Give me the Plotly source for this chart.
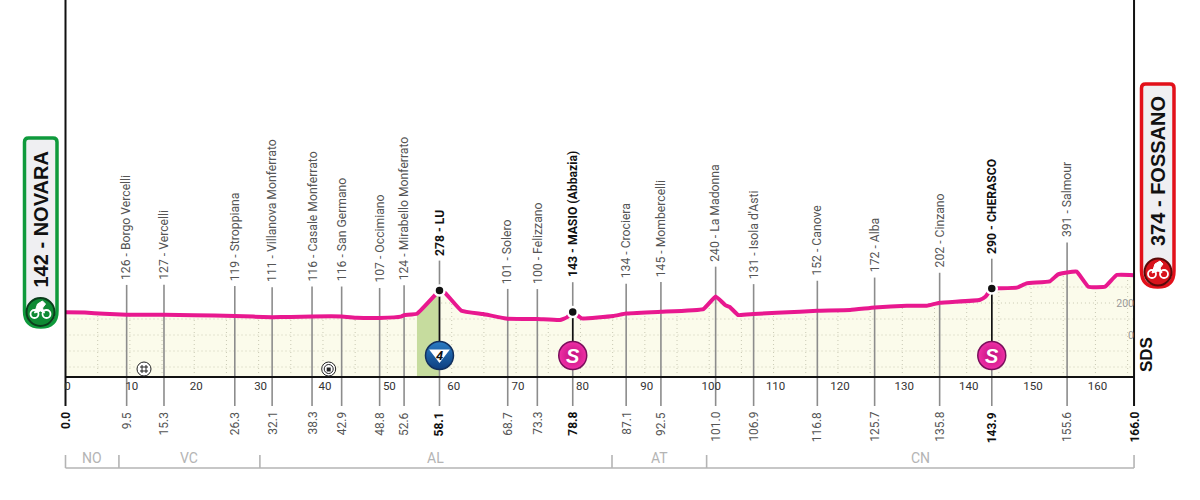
"""Profilo altimetrico di tappa: Novara - Fossano."""
import numpy as np
import plotly.graph_objects as go

# profilo (km, m)
profile_km = [0, 3, 6, 9.5, 15.3, 20, 26.3, 32.1, 35, 38.3, 42.9, 45.3, 48.8, 52.1, 52.6, 54.6,
              57.7, 58.1, 59, 61.5, 64.9, 68.7, 73.3, 76.8, 77.9, 78.8, 80.2, 85.1, 87.1, 92.5,
              99.1, 101, 102.5, 103.2, 104.5, 106.9, 114.1, 116.8, 121.9, 125.7, 130.7, 133.8,
              135.8, 142, 142.9, 143.9, 144.9, 147.8, 149.3, 152.9, 154.2, 155.6, 157.1, 158.9,
              161.5, 163.3, 166]
profile_m = [142, 140, 133, 126, 127, 124, 119, 111, 113, 116, 116, 108, 107, 115, 124, 133,
             262, 278, 262, 152, 131, 101, 100, 94, 110, 143, 104, 119, 134, 145,
             162, 240, 187, 175, 125, 131, 146, 152, 156, 172, 183, 183,
             202, 219, 239, 290, 292, 296, 323, 335, 379, 391, 396, 302,
             302, 375, 374]

# localita
place_km = [9.5, 15.3, 26.3, 32.1, 38.3, 42.9, 48.8, 52.6, 58.1, 68.7, 73.3, 78.8, 87.1, 92.5,
            101.0, 106.9, 116.8, 125.7, 135.8, 143.9, 155.6]
place_m = [126, 127, 119, 111, 116, 116, 107, 124, 278, 101, 100, 143, 134, 145,
           240, 131, 152, 172, 202, 290, 391]
place_names = ["Borgo Vercelli", "Vercelli", "Stroppiana", "Villanova Monferrato", "Casale Monferrato",
               "San Germano", "Occimiano", "Mirabello Monferrato", "LU", "Solero", "Felizzano",
               "MASIO (Abbazia)", "Crociera", "Mombercelli", "La Madonna", "Isola d'Asti", "Canove",
               "Alba", "Cinzano", "CHERASCO", "Salmour"]
bold_km = [58.1, 78.8, 143.9]

# province
region_km = [0, 8.3, 30.2, 84.9, 99.6, 166]
region_names = ["NO", "VC", "AL", "AT", "CN"]

km_ticks = list(range(0, 161, 10))
m_ticks = [0, 200]
grid_levels = [-200, -100, 0, 100, 200, 300]
grid_km = list(range(5, 166, 5))

# scala della pagina
PX_KM = 6.437
X0 = 65.5
Y0 = 335
PX_M = 0.16


def ym(px):
    """Altitudine che corrisponde a una riga di pixel."""
    return (Y0 - px) / PX_M


def xk(px):
    """Km che corrisponde a una colonna di pixel."""
    return (px - X0) / PX_KM


BASE = ym(377)
STEM_END = ym(406)
PINK = "#E8188F"
NARROW = "Roboto, Liberation Sans, sans-serif"

fig = go.Figure()

# area sotto il profilo
fig.add_trace(go.Scatter(x=profile_km + [166, 0], y=profile_m + [BASE, BASE], mode="lines",
                         fill="toself", fillcolor="#FBFBEB", line={"width": 0}))

# griglia punteggiata
fine_km = np.arange(0, 166.01, 0.5)
fine_m = np.interp(fine_km, profile_km, profile_m)
gx, gy = [], []
for level in grid_levels:
    for k, m in zip(fine_km, fine_m):
        gx.append(k if m > level else None)
        gy.append(level if m > level else None)
    gx.append(None)
    gy.append(None)
for k in grid_km:
    gx += [k, k, None]
    gy += [BASE, float(np.interp(k, profile_km, profile_m)), None]
fig.add_trace(go.Scatter(x=gx, y=gy, mode="lines", connectgaps=False,
                         line={"color": "#C9C9B4", "width": 1, "dash": "1px 3px"}))

# salita del GPM
climb_km = [k for k in profile_km if 54.6 <= k <= 58.1]
climb_m = [m for k, m in zip(profile_km, profile_m) if 54.6 <= k <= 58.1]
fig.add_trace(go.Scatter(x=climb_km + [58.1, 54.6], y=climb_m + [BASE, BASE], mode="lines",
                         fill="toself", fillcolor="#C6DC9E", line={"width": 0}))

# aste delle localita
sx, sy = [], []
for k, m in zip(place_km, place_m):
    sx += [k, k, None]
    sy += [m + 187, STEM_END, None]
fig.add_trace(go.Scatter(x=sx, y=sy, mode="lines", line={"color": "#8C8C8C", "width": 1.6}))

# aste nere sotto i traguardi
bx, by = [], []
for k in bold_km:
    bx += [k, k, None]
    by += [place_m[place_km.index(k)], ym(356), None]
fig.add_trace(go.Scatter(x=bx, y=by, mode="lines", line={"color": "#111111", "width": 1.6}))

# profilo
fig.add_trace(go.Scatter(x=profile_km, y=profile_m, mode="lines",
                         line={"color": PINK, "width": 4, "shape": "spline", "smoothing": 0.3}))

# base, partenza e arrivo
fig.add_trace(go.Scatter(x=[0, 166], y=[BASE, BASE], mode="lines", line={"color": "#111111", "width": 2}))
fig.add_trace(go.Scatter(x=[0, 0, None, 166, 166], y=[ym(0), STEM_END, None, ym(0), STEM_END], mode="lines",
                         line={"color": "#111111", "width": 2}))

# pallini dei traguardi
fig.add_trace(go.Scatter(x=bold_km, y=[place_m[place_km.index(k)] for k in bold_km], mode="markers",
                         marker={"color": "#111111", "size": 10, "line": {"color": "white", "width": 2.5}}))

# simboli GPM e sprint
fig.add_trace(go.Scatter(x=[58.1], y=[ym(355.5)], mode="markers",
                         marker={"color": "#2A7CC4", "size": 28, "line": {"color": "#12305E", "width": 1.5},
                                 "gradient": {"type": "vertical", "color": "#0E3F80"}}))
fig.add_trace(go.Scatter(x=[58.1], y=[ym(354)], mode="markers",
                         marker={"color": "white", "size": 18, "symbol": "triangle-down"}))
fig.add_trace(go.Scatter(x=[78.8, 143.9], y=[ym(355.5), ym(355.5)], mode="markers",
                         marker={"color": "#F02FA6", "size": 28, "line": {"color": "#7A0F5C", "width": 1.5},
                                 "gradient": {"type": "radial", "color": "#C0107F"}}))

# passaggio a livello e galleria
fig.add_trace(go.Scatter(x=[xk(144), xk(328.7)], y=[ym(369), ym(369)], mode="markers",
                         marker={"color": "white", "size": 14, "line": {"color": "#222222", "width": 1}}))
fig.add_trace(go.Scatter(x=[xk(144)], y=[ym(369)], mode="markers",
                         marker={"symbol": "hash-open", "size": 8, "color": "#222222",
                                 "line": {"color": "#222222", "width": 1}}))
fig.add_trace(go.Scatter(x=[xk(328.7)], y=[ym(369)], mode="markers",
                         marker={"color": "white", "size": 9, "line": {"color": "#222222", "width": 1}}))
fig.add_trace(go.Scatter(x=[xk(328.7)], y=[ym(369.5)], mode="markers",
                         marker={"color": "#222222", "size": 4, "symbol": "square"}))

# dischi nei cartelli
fig.add_trace(go.Scatter(x=[xk(40.5)], y=[ym(312)], mode="markers",
                         marker={"color": "#0F8A34", "size": 28, "line": {"color": "#0B3D1C", "width": 2}}))
fig.add_trace(go.Scatter(x=[xk(1158)], y=[ym(272)], mode="markers",
                         marker={"color": "#D8141C", "size": 27, "line": {"color": "#5A0A0A", "width": 2}}))

annotations = []

# etichette delle localita
for k, m, name in zip(place_km, place_m, place_names):
    bold = k in bold_km
    annotations.append({"x": k, "y": m + 187, "yshift": 3, "yanchor": "bottom", "showarrow": False,
                        "textangle": -90, "text": f"<b>{m} - {name}</b>" if bold else f"{m} - {name}",
                        "font": {"family": NARROW, "size": 12.2, "color": "#111111" if bold else "#555555"}})

# km progressivi
for k in [0.0] + place_km + [166.0]:
    bold = k in bold_km or k in (0.0, 166.0)
    annotations.append({"x": k, "y": ym(410), "yanchor": "top", "showarrow": False, "textangle": -90,
                        "text": f"<b>{k:.1f}</b>" if bold else f"{k:.1f}",
                        "font": {"family": NARROW, "size": 12, "color": "#111111" if bold else "#555555"}})

# province
for i, name in enumerate(region_names):
    annotations.append({"x": (region_km[i] + region_km[i + 1]) / 2, "y": ym(458), "showarrow": False,
                        "text": name, "font": {"family": NARROW, "size": 14, "color": "#B4B4B4"}})

# numero e lettere nei simboli
annotations.append({"x": 58.1, "y": ym(355), "showarrow": False, "text": "<b><i>4</i></b>",
                    "font": {"family": NARROW, "size": 13, "color": "#111111"}})
for k in (78.8, 143.9):
    annotations.append({"x": k, "y": ym(355.5), "showarrow": False, "text": "<b><i>S</i></b>",
                        "font": {"family": "Liberation Sans", "size": 20, "color": "white"}})

# cartelli partenza e arrivo
annotations.append({"x": xk(40.5), "y": ym(220), "showarrow": False, "textangle": -90,
                    "text": "<b>142 - NOVARA</b>",
                    "font": {"family": "Liberation Sans", "size": 20, "color": "#111111"}})
annotations.append({"x": xk(1158), "y": ym(171), "showarrow": False, "textangle": -90,
                    "text": "<b>374 - FOSSANO</b>",
                    "font": {"family": "Liberation Sans", "size": 20, "color": "#111111"}})
annotations.append({"x": xk(1146), "y": ym(355), "showarrow": False, "textangle": -90, "text": "<b>SDS</b>",
                    "font": {"family": "Liberation Sans", "size": 17, "color": "#111111"}})


def pill(left, right, top, bottom, color):
    """Cartello arrotondato, in pixel della pagina."""
    r = 4
    rb = (right - left) / 2
    x = lambda p: p / 1200
    y = lambda p: 1 - p / 500
    path = (f"M {x(left + r)} {y(top)} L {x(right - r)} {y(top)} Q {x(right)} {y(top)} {x(right)} {y(top + r)} "
            f"L {x(right)} {y(bottom - rb)} Q {x(right)} {y(bottom)} {x((left + right) / 2)} {y(bottom)} "
            f"Q {x(left)} {y(bottom)} {x(left)} {y(bottom - rb)} L {x(left)} {y(top + r)} "
            f"Q {x(left)} {y(top)} {x(left + r)} {y(top)} Z")
    return {"type": "path", "xref": "paper", "yref": "paper", "path": path, "layer": "below",
            "fillcolor": "#EFEFF2", "line": {"color": color, "width": 3.5}}


def bike(cx, cy):
    """Ciclista bianco stilizzato."""
    out = []
    for dx in (-6, 6):
        out.append({"type": "circle", "xref": "x", "yref": "y", "layer": "above",
                    "x0": xk(cx + dx - 4), "x1": xk(cx + dx + 4), "y0": ym(cy + 8), "y1": ym(cy),
                    "line": {"color": "white", "width": 1.8}})
    x = lambda p: xk(cx + p)
    y = lambda p: ym(cy + p)
    out.append({"type": "path", "xref": "x", "yref": "y", "layer": "above", "fillcolor": "white",
                "line": {"color": "white", "width": 1},
                "path": f"M {x(-6)} {y(3)} L {x(-3)} {y(-6)} L {x(2)} {y(-9)} L {x(5)} {y(-6)} "
                        f"L {x(2)} {y(-2)} L {x(4)} {y(3)} L {x(0)} {y(1)} Z"})
    return out


# barra delle province
rx = [0, 166]
shapes = [{"type": "line", "xref": "x", "yref": "y", "x0": rx[0], "x1": rx[1], "y0": ym(468), "y1": ym(468),
           "line": {"color": "#B4B4B4", "width": 1.6}}]
for k in region_km:
    shapes.append({"type": "line", "xref": "x", "yref": "y", "x0": k, "x1": k, "y0": ym(455), "y1": ym(468),
                   "line": {"color": "#B4B4B4", "width": 1.6}})
shapes.append(pill(24.5, 57, 138, 327, "#0F9A3C"))
shapes.append(pill(1141.5, 1174, 84, 287, "#E2101A"))
shapes += bike(40.5, 310)
shapes += bike(1158, 270)

fig.update_layout(
    width=1200,
    height=500,
    margin={"l": 0, "r": 0, "t": 0, "b": 0},
    paper_bgcolor="white",
    plot_bgcolor="white",
    showlegend=False,
    annotations=annotations,
    shapes=shapes,
    xaxis={"range": [xk(0), xk(1200)], "tickvals": km_ticks, "showgrid": False, "zeroline": False,
           "anchor": "free", "position": (500 - 377) / 500, "ticklabelshift": 2, "ticklen": 0,
           "tickfont": {"family": NARROW, "size": 11.5, "color": "#333333"}},
    yaxis={"range": [ym(500), ym(0)], "tickvals": m_ticks, "showgrid": False, "zeroline": False,
           "anchor": "free", "position": 1134 / 1200, "side": "left", "ticklen": 0,
           "tickfont": {"family": NARROW, "size": 10.5, "color": "#999999"}},
)

# il margine di default della pagina sposterebbe tutto di 8 px
fig.write_html("out.html", config={"displayModeBar": False}, post_script="document.body.style.margin = '0';")
